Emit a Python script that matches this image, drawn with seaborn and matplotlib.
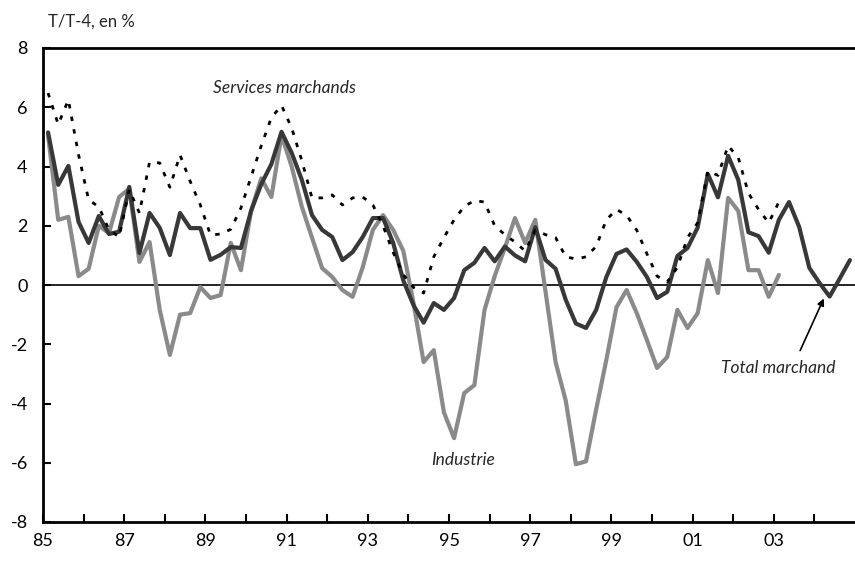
import numpy as np
import pandas as pd
import matplotlib
matplotlib.use("Agg")
import matplotlib.pyplot as plt
import seaborn as sns

# Quarterly series, 1985Q1 onwards (T/T-4, en %)
total_marchand = [
    5.15, 3.38, 4.02, 2.13, 1.42, 2.33, 1.72, 1.80, 3.31, 1.08,
    2.43, 1.93, 1.01, 2.43, 1.92, 1.92, 0.85, 1.02, 1.28, 1.25,
    2.50, 3.40, 4.08, 5.17, 4.46, 3.55, 2.36, 1.86, 1.62, 0.84,
    1.11, 1.62, 2.26, 2.26, 1.42, 0.15, -0.68, -1.27, -0.61, -0.84,
    -0.44, 0.50, 0.75, 1.25, 0.80, 1.30, 1.00, 0.80, 1.95, 0.85,
    0.55, -0.50, -1.30, -1.45, -0.84, 0.27, 1.05, 1.20, 0.78, 0.27,
    -0.44, -0.23, 0.98, 1.25, 1.94, 3.75, 2.96, 4.36, 3.55, 1.78,
    1.65, 1.09, 2.20, 2.80, 1.96, 0.58, 0.07, -0.39, 0.22, 0.84,
]
services_marchands = [
    6.48, 5.42, 6.25, 4.40, 2.87, 2.64, 1.86, 1.62, 3.22, 2.43,
    4.15, 4.12, 3.30, 4.39, 3.50, 2.70, 1.69, 1.72, 1.88, 2.60,
    3.65, 4.70, 5.65, 6.06, 5.30, 4.20, 2.94, 2.94, 3.04, 2.70,
    2.94, 2.97, 2.70, 2.00, 1.10, 0.35, -0.08, -0.27, 0.95, 1.60,
    2.20, 2.65, 2.85, 2.80, 2.00, 1.70, 1.45, 1.15, 1.85, 1.70,
    1.60, 0.95, 0.88, 0.95, 1.30, 2.20, 2.55, 2.35, 1.85, 1.05,
    0.30, 0.10, 0.60, 1.60, 2.10, 3.85, 3.70, 4.70, 4.30, 3.10,
    2.55, 2.10, 2.80,
]
industrie = [
    5.05, 2.20, 2.30, 0.30, 0.55, 2.00, 1.75, 2.97, 3.25, 0.78,
    1.45, -0.84, -2.36, -1.00, -0.95, -0.07, -0.44, -0.34, 1.42, 0.50,
    2.50, 3.60, 2.97, 5.05, 4.00, 2.64, 1.60, 0.57, 0.27, -0.17,
    -0.40, 0.60, 1.86, 2.36, 1.86, 1.15, -0.60, -2.60, -2.20, -4.30,
    -5.17, -3.65, -3.38, -0.84, 0.30, 1.25, 2.26, 1.42, 2.20, -0.20,
    -2.60, -3.90, -6.05, -5.95, -4.20, -2.53, -0.75, -0.17, -0.95, -1.86,
    -2.80, -2.43, -0.84, -1.45, -0.95, 0.84, -0.27, 2.94, 2.50, 0.50,
    0.50, -0.40, 0.34,
]
x_tick_labels = ["85", "87", "89", "91", "93", "95", "97", "99", "01", "03"]
label_years = [1985, 1987, 1989, 1991, 1993, 1995, 1997, 1999, 2001, 2003]

def quarters(n):
    return [1985 + (i + 0.5) / 4 for i in range(n)]

df_tot = pd.DataFrame({"t": quarters(len(total_marchand)), "v": total_marchand})
df_ser = pd.DataFrame({"t": quarters(len(services_marchands)), "v": services_marchands})
df_ind = pd.DataFrame({"t": quarters(len(industrie)), "v": industrie})

sns.set_style("white")
plt.rcParams["font.family"] = ["Lato", "DejaVu Sans"]

fig = plt.figure(figsize=(8.55, 5.62), dpi=100)
ax = fig.add_axes([43 / 855, 1 - 522 / 562, (855 - 43) / 855, (522 - 48) / 562])

ax.axhline(0, color="black", lw=1.2, zorder=1)
sns.lineplot(data=df_ind, x="t", y="v", ax=ax, color="#8a8a8a", lw=3.0, zorder=2)
sns.lineplot(data=df_tot, x="t", y="v", ax=ax, color="#383838", lw=3.0, zorder=3)
sns.lineplot(data=df_ser, x="t", y="v", ax=ax, color="black", lw=2.0,
             linestyle=(0, (1.6, 3.0)), zorder=4)

ax.set_xlim(1985, 2005)
ax.set_ylim(-8, 8)
ax.set_yticks(np.arange(-8, 9, 2))
ax.set_yticklabels([str(v) for v in range(-8, 9, 2)])
ax.set_xticks(range(1986, 2005), minor=True)
ax.set_xticks(label_years)
ax.set_xticklabels(x_tick_labels)
ax.set_xlabel("")
ax.set_ylabel("")

for side in ["left", "bottom", "top"]:
    ax.spines[side].set_visible(True)
    ax.spines[side].set_color("black")
    ax.spines[side].set_linewidth(2.0)
ax.spines["right"].set_visible(False)

ax.tick_params(axis="y", direction="in", length=6, width=1.5, pad=11,
               labelsize=13, colors="black", left=True)
ax.tick_params(axis="x", which="both", direction="in", length=6, width=1.5,
               pad=8, labelsize=13, colors="black", bottom=True)

ax.text(1990.94, 6.65, "Services marchands", style="italic", fontsize=12.5,
        ha="center", va="center")
ax.text(1995.35, -5.91, "Industrie", style="italic", fontsize=12.5,
        ha="center", va="center")
ax.text(2003.1, -2.8, "Total marchand", style="italic", fontsize=12.5,
        ha="center", va="center")
ax.annotate("", xy=(2004.26, -0.37), xytext=(2003.62, -2.3),
            arrowprops=dict(arrowstyle="-|>", color="black", lw=1.2,
                            mutation_scale=10))

fig.text(48 / 855, 1 - 22 / 562, "T/T-4, en %", fontsize=12,
         ha="left", va="center")

fig.savefig("out.png", dpi=100)
